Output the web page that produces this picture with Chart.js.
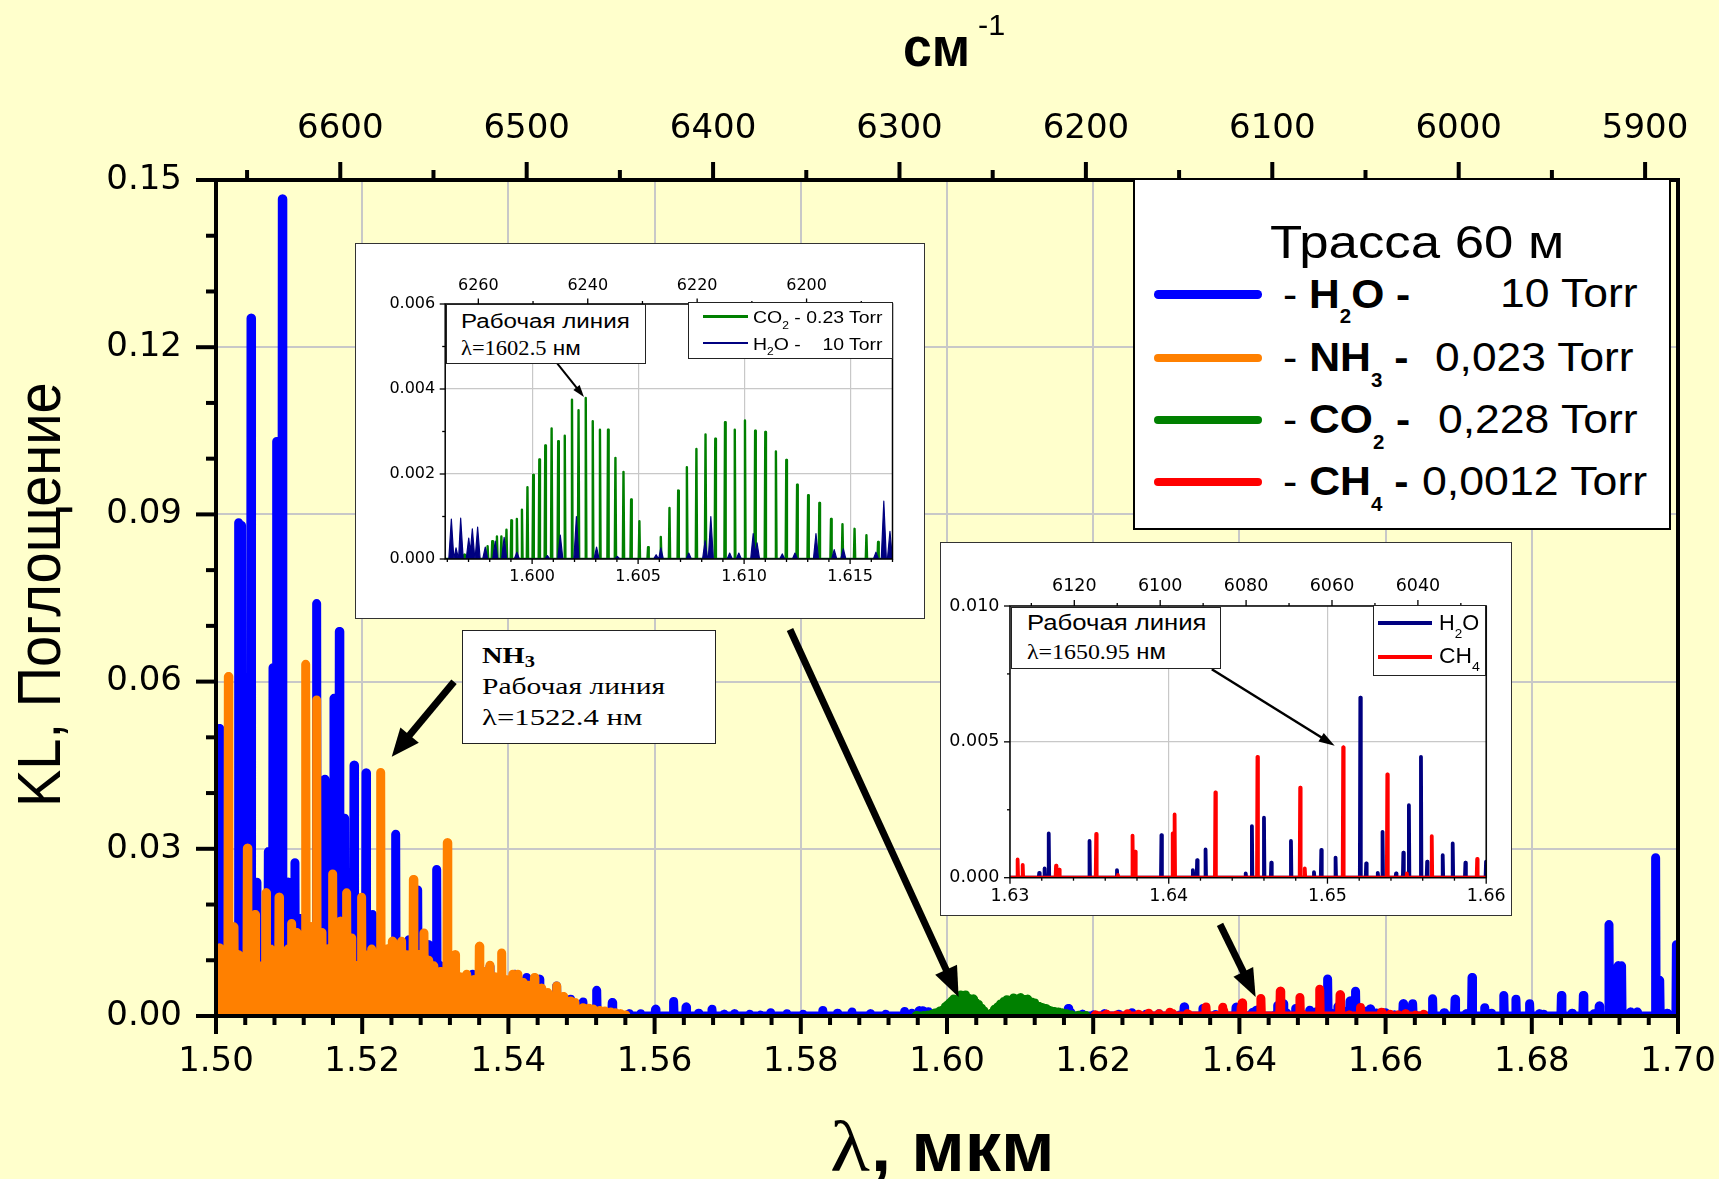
<!DOCTYPE html>
<html><head><meta charset="utf-8">
<script src="https://cdn.jsdelivr.net/npm/chart.js@4.4.1/dist/chart.umd.min.js"></script>
<style>
html,body{margin:0;padding:0;background:#ffffcc;width:1719px;height:1179px;overflow:hidden;position:relative}
canvas{display:block}
#main{position:absolute;left:0;top:0}
.box{position:absolute;box-sizing:border-box;background:#fff}
.frame{position:absolute;box-sizing:border-box;pointer-events:none}
.inset{position:absolute;background:#fff}
.sw{position:absolute}
.txt{position:absolute;white-space:nowrap;transform-origin:0 0;color:#000;line-height:1}
.sb{font-size:48%;position:relative;top:.8em}
.sb2{font-size:62%;position:relative;top:.55em}
.sb3{font-size:72%;position:relative;top:.25em}
</style></head><body>
<canvas id="main" width="1719" height="1179"></canvas>
<div class="box" style="left:1133px;top:178px;width:538px;height:352px;border:2px solid #000"></div>
<div class="box" style="left:462px;top:630px;width:254px;height:114px;border:1.5px solid #222"></div>
<div class="inset" style="left:355px;top:243px;width:570px;height:376px"><canvas id="in1" width="570" height="376"></canvas></div>
<div class="frame" style="left:355px;top:243px;width:570px;height:376px;border:1.5px solid #333"></div>
<div class="box" style="left:446px;top:304px;width:200px;height:60px;border:1.5px solid #222"></div>
<div class="box" style="left:688px;top:302px;width:205px;height:57px;border:1.5px solid #222"></div>
<div class="inset" style="left:940px;top:542px;width:572px;height:374px"><canvas id="in2" width="572" height="374"></canvas></div>
<div class="frame" style="left:940px;top:542px;width:572px;height:374px;border:1.5px solid #333"></div>
<div class="box" style="left:1011px;top:607px;width:210px;height:62px;border:1.5px solid #222"></div>
<div class="box" style="left:1373px;top:605px;width:113px;height:71px;border:1.5px solid #222"></div>
<script>
// ---------------- DATA (line positions in µm, absorbance KL) ----------------
// H2O, 10 Torr : strong lines 1.50–1.596 µm
const h2oStrong = [
 [1.50045,0.0516],[1.5009,0.0120],[1.5016,0.0080],[1.5022,0.0100],[1.5031,0.0885],[1.5035,0.0880],
 [1.5040,0.0150],[1.50479,0.1252],[1.5052,0.0200],[1.5056,0.0240],[1.5063,0.0080],[1.50716,0.0295],
 [1.5078,0.0625],[1.5083,0.1031],[1.50907,0.1466],[1.50986,0.0240],[1.5108,0.0275],[1.5115,0.0175],
 [1.5123,0.0130],[1.5131,0.0100],[1.51377,0.0740],[1.51491,0.0425],[1.51614,0.0570],[1.51687,0.0690],
 [1.51760,0.0355],[1.51888,0.0450],[1.5195,0.0200],[1.52052,0.0436],[1.52143,0.0182],[1.5221,0.0120],
 [1.5233,0.0100],[1.52458,0.0326],[1.5264,0.0137],[1.52759,0.0226],[1.52905,0.0128],[1.53019,0.0263],
 [1.5306,0.0091],[1.53247,0.0089],[1.5340,0.0060],[1.53511,0.0075],[1.53748,0.0089],[1.5392,0.0060],
 [1.5409,0.0075],[1.5425,0.0069],[1.54423,0.0066],[1.5466,0.0054],[1.5485,0.0030],[1.5502,0.0025],
 [1.55208,0.0046],[1.5542,0.0024],[1.5565,0.0004],[1.5581,0.0004],[1.56012,0.0012],[1.5626,0.0026],
 [1.5643,0.0016],[1.5660,0.0005],[1.56785,0.0012],[1.5695,0.0003],[1.5709,0.0004],[1.5730,0.0003],
 [1.5745,0.0002],[1.57588,0.0006],[1.5781,0.0004],[1.5803,0.0003],[1.58301,0.0010],[1.5850,0.0005],
 [1.5870,0.0007],[1.5895,0.0004],[1.5916,0.0003],[1.5942,0.0008],[1.5952,0.0005]
];
// H2O in the CO2 window (inset 1)
const h2oCo2Window = [
 [1.59619,0.00094],[1.59641,0.00026],[1.59663,0.00096],[1.59701,0.00049],[1.59718,0.00071],[1.59743,0.00075],
 [1.59779,0.00028],[1.59826,0.00042],[1.59868,0.00051],[1.59928,0.00016],[1.60072,0.00008],[1.60133,0.00056],
 [1.60209,0.00100],[1.60304,0.00028],[1.60402,0.00006],[1.60585,0.00010],[1.60607,0.00026],[1.60739,0.00014],
 [1.60816,0.00043],[1.60843,0.00100],[1.60932,0.00014],[1.60975,0.00014],[1.61043,0.00060],[1.61061,0.00038],
 [1.61180,0.00012],[1.61240,0.00014],[1.61339,0.00060],[1.61425,0.00022],[1.61468,0.00024],[1.61622,0.00016],
 [1.61659,0.00136],[1.61688,0.00065]
];
const h2oMid = [[1.6185,0.0003],[1.6200,0.0002],[1.6215,0.0004],[1.6235,0.0003],[1.6253,0.0006],[1.6272,0.0003],[1.6290,0.0004]];
// H2O in the CH4 window (inset 2)
const h2oCh4Window = [
 [1.63184,0.00018],[1.63218,0.00034],[1.63244,0.00163],[1.63501,0.00135],[1.63674,0.00028],[1.63954,0.00157],
 [1.64152,0.00028],[1.64179,0.00065],[1.64232,0.00104],[1.64485,0.00016],[1.64524,0.00190],[1.64600,0.00221],
 [1.64646,0.00055],[1.64770,0.00135],[1.64915,0.00020],[1.64961,0.00102],[1.65051,0.00074],[1.65207,0.00663],
 [1.65244,0.00053],[1.65317,0.00018],[1.65347,0.00169],[1.65432,0.00016],[1.65478,0.00092],[1.65513,0.00267],
 [1.65589,0.00445],[1.65628,0.00059],[1.65726,0.00083],[1.65789,0.00126],[1.65869,0.00055],[1.65999,0.00059]
];
const h2oFar = [
 [1.6612,0.0002],[1.6624,0.0022],[1.6637,0.0022],[1.66643,0.0031],[1.6680,0.0006],[1.6695,0.0030],
 [1.6710,0.0004],[1.67182,0.0069],[1.67356,0.0015],[1.6745,0.0005],[1.67617,0.0037],[1.67783,0.0030],
 [1.6797,0.0022],[1.6810,0.0004],[1.68164,0.0003],[1.68405,0.0037],[1.6855,0.0005],[1.68705,0.0037],
 [1.6885,0.0004],[1.68922,0.0018],[1.69056,0.0164],[1.6918,0.0090],[1.69228,0.0090],[1.6935,0.0007],
 [1.6944,0.0007],[1.69694,0.0284],[1.6975,0.0064],[1.6985,0.0005],[1.69978,0.0128]
];
// NH3, 0.023 Torr
const nh3Lines = [
 [1.50045,0.0122],[1.5009,0.0080],[1.50169,0.0609],[1.50246,0.0160],[1.5031,0.0110],[1.5037,0.0090],
 [1.50429,0.0301],[1.5049,0.0100],[1.50534,0.0182],[1.5060,0.0090],[1.50684,0.0221],[1.5075,0.0120],
 [1.5080,0.0090],[1.50862,0.0213],[1.5093,0.0100],[1.50985,0.0120],[1.51035,0.0166],[1.5110,0.0150],
 [1.5116,0.0110],[1.51227,0.0631],[1.5130,0.0160],[1.51377,0.0567],[1.5145,0.0150],[1.51525,0.0120],
 [1.51596,0.0255],[1.51700,0.0170],[1.51787,0.0221],[1.5185,0.0140],[1.5192,0.0090],[1.51992,0.0213],
 [1.5205,0.0110],[1.5213,0.0120],[1.5219,0.0095],[1.52253,0.0437],[1.5234,0.0120],[1.52412,0.0134],
 [1.5248,0.0120],[1.52539,0.0134],[1.5260,0.0110],[1.52700,0.0245],[1.5277,0.0110],[1.52845,0.0149],
 [1.5291,0.0100],[1.5298,0.0090],[1.5307,0.0080],[1.53164,0.0311],[1.5327,0.0110],[1.5334,0.0070],
 [1.5343,0.0075],[1.5352,0.0065],[1.53602,0.0125],[1.5368,0.0080],[1.53748,0.0091],[1.5382,0.0070],
 [1.53908,0.0113],[1.5398,0.0065],[1.5406,0.0075],[1.5413,0.0075],[1.5420,0.0060],[1.5428,0.0055],
 [1.54356,0.0069],[1.5445,0.0050],[1.5454,0.0042],[1.54661,0.0054],[1.5475,0.0035],[1.5485,0.0027],
 [1.5491,0.0024],[1.5502,0.0015],[1.5510,0.0014],[1.5516,0.0012],[1.5525,0.0010],[1.5532,0.0009],
 [1.5540,0.0007],[1.5546,0.0006],[1.5553,0.0004],[1.5560,0.0002]
];
// CO2, 0.228 Torr
const co2Lines = [
 [1.5958,0.0001],[1.5968,0.0001],[1.5974,0.0002],
 [1.59790,0.0003],[1.59812,0.00042],[1.59834,0.00053],[1.59855,0.00053],[1.59879,0.00069],[1.59902,0.00091],
 [1.59928,0.00094],[1.59952,0.00116],[1.59978,0.00169],[1.60005,0.00198],[1.60034,0.00234],[1.60062,0.00267],
 [1.60092,0.00307],[1.60123,0.00277],[1.60154,0.00290],[1.60188,0.00375],[1.60219,0.00350],[1.60253,0.00379],
 [1.60286,0.00324],[1.60320,0.00304],[1.60358,0.00304],[1.60393,0.00238],[1.60431,0.00205],[1.60467,0.00140],
 [1.60506,0.00089],[1.60547,0.00028],
 [1.60607,0.00052],[1.60648,0.00120],[1.60689,0.00161],[1.60730,0.00216],[1.60775,0.00259],[1.60818,0.00293],
 [1.60864,0.00283],[1.60910,0.00322],[1.60956,0.00304],[1.61004,0.00326],[1.61052,0.00302],[1.61100,0.00299],
 [1.61150,0.00253],[1.61199,0.00233],[1.61250,0.00175],[1.61302,0.00150],[1.61355,0.00132],[1.61410,0.00094],
 [1.61464,0.00082],[1.61521,0.00071],[1.61577,0.00056],[1.61632,0.00040],
 [1.6170,0.0002],[1.6180,0.00015],[1.6190,0.0001]
];
// CH4, 0.0012 Torr
const ch4Lines = [
 [1.6203,0.0002],[1.6218,0.0003],[1.6232,0.0002],[1.6247,0.0004],[1.6262,0.0003],[1.6276,0.0005],[1.6290,0.0004],
 [1.63048,0.00067],[1.63080,0.00047],[1.63290,0.00044],[1.63310,0.00030],[1.63543,0.00161],[1.63680,0.00010],
 [1.63772,0.00155],[1.63789,0.00096],[1.64025,0.00163],[1.64037,0.00233],[1.64294,0.00314],[1.64559,0.00445],
 [1.64828,0.00331],[1.64857,0.00034],[1.65099,0.00480],[1.65377,0.00380],[1.65500,0.00016],[1.65657,0.00153],
 [1.65943,0.00069],
 [1.6606,0.0003],[1.6617,0.0002],[1.6627,0.0004],[1.6641,0.0002],[1.6652,0.0003]
];
const h2oLines = [...h2oStrong, ...h2oCo2Window, ...h2oMid, ...h2oCh4Window, ...h2oFar];

// tick labels
const xTicks = [1.50,1.52,1.54,1.56,1.58,1.60,1.62,1.64,1.66,1.68,1.70];
const yTicks = [0,0.03,0.06,0.09,0.12,0.15];
const topTicks = [6600,6500,6400,6300,6200,6100,6000,5900];
const in1XTicks = [1.600,1.605,1.610,1.615];
const in1YTicks = [0,0.002,0.004,0.006];
const in1TopTicks = [6260,6240,6220,6200];
const in2XTicks = [1.63,1.64,1.65,1.66];
const in2YTicks = [0,0.005,0.010];
const in2TopTicks = [6120,6100,6080,6060,6040];

// ---------------- helpers ----------------
function spikes(pairs, d) {
  const s = pairs.slice().sort((a,b)=>a[0]-b[0]);
  const out = [];
  for (const [p,v] of s) out.push({x:p-d,y:0},{x:p,y:v},{x:p+d,y:0});
  return out;
}
function lin(o) {
  return {
    type:'linear', position:o.pos, min:o.min, max:o.max, reverse:!!o.reverse,
    afterFit: s => {
      if (o.pos==='left') s.width = o.size; else s.height = o.size;
      s.paddingLeft = 0; s.paddingRight = 0; s.paddingTop = 0; s.paddingBottom = 0;
    },
    afterBuildTicks: s => { s.ticks = o.ticks.map(v=>({value:v})); },
    ticks:{color:'#000', font:{family:'DejaVu Sans', size:o.font}, padding:o.pad, autoSkip:false,
           maxRotation:0, minRotation:0, callback:o.fmt},
    grid:{display:o.grid!==false, color:'#c8c8c8', lineWidth:o.gridW||2, drawTicks:false},
    border:{display:false}
  };
}
const tickMarks = {
  id:'tickMarks',
  afterDatasetsDraw(chart, args, opts) {
    const ctx = chart.ctx, a = chart.chartArea;
    ctx.save(); ctx.strokeStyle = '#000'; ctx.lineCap = 'butt';
    for (const ax of (opts.axes||[])) {
      const sc = chart.scales[ax.id];
      const list = ax.major.map(v=>[v, ax.majorLen]);
      const lo = Math.min(sc.min, sc.max), hi = Math.max(sc.min, sc.max);
      const n0 = Math.ceil(lo/ax.minorStep - 1e-6), n1 = Math.floor(hi/ax.minorStep + 1e-6);
      for (let n=n0; n<=n1; n++) {
        const v = n*ax.minorStep;
        if (!ax.major.some(m=>Math.abs(m-v) < ax.minorStep*1e-3)) list.push([v, ax.minorLen]);
      }
      ctx.lineWidth = ax.width;
      for (const [v,len] of list) {
        const p = sc.getPixelForValue(v);
        ctx.beginPath();
        if (ax.side==='left') { ctx.moveTo(a.left,p); ctx.lineTo(a.left-len,p); }
        else if (ax.side==='bottom') { ctx.moveTo(p,a.bottom); ctx.lineTo(p,a.bottom+len); }
        else { ctx.moveTo(p,a.top); ctx.lineTo(p,a.top-len); }
        ctx.stroke();
      }
    }
    ctx.lineWidth = opts.frameWidth;
    ctx.strokeRect(a.left, a.top, a.width, a.height);
    ctx.restore();
  }
};
const arrows = {
  id:'arrows',
  afterDatasetsDraw(chart, args, opts) {
    const ctx = chart.ctx, xs = chart.scales.x, ys = chart.scales.y;
    ctx.save(); ctx.strokeStyle = '#000'; ctx.fillStyle = '#000'; ctx.lineCap = 'butt';
    for (const ar of (opts.list||[])) {
      const x1 = xs.getPixelForValue(ar.from[0]), y1 = ys.getPixelForValue(ar.from[1]);
      const x2 = xs.getPixelForValue(ar.to[0]), y2 = ys.getPixelForValue(ar.to[1]);
      const ang = Math.atan2(y2-y1, x2-x1), c = Math.cos(ang), s = Math.sin(ang);
      const bx = x2 - ar.head*c, by = y2 - ar.head*s;
      ctx.lineWidth = ar.width;
      ctx.beginPath(); ctx.moveTo(x1,y1); ctx.lineTo(bx+ar.head*0.3*c, by+ar.head*0.3*s); ctx.stroke();
      ctx.beginPath(); ctx.moveTo(x2,y2);
      ctx.lineTo(bx + ar.headW/2*s, by - ar.headW/2*c);
      ctx.lineTo(bx - ar.headW/2*s, by + ar.headW/2*c);
      ctx.closePath(); ctx.fill();
    }
    ctx.restore();
  }
};
const lineEl = {point:{radius:0, hoverRadius:0}, line:{tension:0, borderJoinStyle:'round', borderCapStyle:'round', fill:false}};
const f2 = v => Number(v).toFixed(2), f3 = v => Number(v).toFixed(3), f0 = v => String(Math.round(v));

// ---------------- main chart ----------------
const DM = 0.00007;
new Chart(document.getElementById('main'), {
  type:'line',
  data:{datasets:[
    {label:'H2O', data:spikes(h2oLines,DM), borderColor:'#0000ff', borderWidth:9, order:4},
    {label:'NH3', data:spikes(nh3Lines,DM), borderColor:'#ff8000', borderWidth:9, order:3},
    {label:'CO2', data:spikes(co2Lines,DM), borderColor:'#008000', borderWidth:9, order:2},
    {label:'CH4', data:spikes(ch4Lines,DM), borderColor:'#ff0000', borderWidth:9, order:1}
  ]},
  options:{
    responsive:false, animation:false, devicePixelRatio:1, events:[],
    layout:{autoPadding:false, padding:{left:0,right:41,top:0,bottom:0}},
    elements:lineEl,
    plugins:{legend:{display:false}, tooltip:{enabled:false},
      tickMarks:{frameWidth:4, axes:[
        {id:'y', side:'left', major:yTicks, minorStep:0.01, majorLen:20, minorLen:10, width:4},
        {id:'x', side:'bottom', major:xTicks, minorStep:0.004, majorLen:18, minorLen:9, width:4},
        {id:'x2', side:'top', major:topTicks, minorStep:50, majorLen:18, minorLen:10, width:4}]},
      arrows:{list:[
        {from:[1.53256,0.05999], to:[1.52404,0.04653], width:7, head:28, headW:24},
        {from:[1.57852,0.06935], to:[1.60159,0.00341], width:7, head:30, headW:24},
        {from:[1.63735,0.01644], to:[1.64222,0.00341], width:7, head:28, headW:22}]}
    },
    scales:{
      x: lin({pos:'bottom', min:1.5, max:1.7, size:163, ticks:xTicks, font:34, pad:26, fmt:f2}),
      x2: lin({pos:'top', min:10000/1.7, max:10000/1.5, reverse:true, size:180, ticks:topTicks, font:34, pad:30, fmt:f0, grid:false}),
      y: lin({pos:'left', min:0, max:0.15, size:216, ticks:yTicks, font:34, pad:34, fmt:f2})
    }
  },
  plugins:[tickMarks, arrows]
});

// ---------------- inset 1 : CO2 window ----------------
new Chart(document.getElementById('in1'), {
  type:'line',
  data:{datasets:[
    {label:'CO2', data:spikes(co2Lines,0.00003), borderColor:'#008000', borderWidth:2.4, order:2},
    {label:'H2O', data:spikes(h2oLines,0.00012), borderColor:'#000080', borderWidth:1.2,
     fill:'origin', backgroundColor:'#000080', order:1}
  ]},
  options:{
    responsive:false, animation:false, devicePixelRatio:1, events:[],
    layout:{autoPadding:false, padding:{left:0,right:32.5,top:0,bottom:0}},
    elements:lineEl,
    plugins:{legend:{display:false}, tooltip:{enabled:false},
      tickMarks:{frameWidth:1.5, axes:[
        {id:'y', side:'left', major:in1YTicks, minorStep:0.001, majorLen:5.5, minorLen:3, width:1.3},
        {id:'x', side:'bottom', major:in1XTicks, minorStep:0.001, majorLen:5, minorLen:3, width:1.3},
        {id:'x2', side:'top', major:in1TopTicks, minorStep:10, majorLen:5.5, minorLen:3, width:1.3}]},
      arrows:{list:[{from:[1.601164,0.004612], to:[1.602447,0.003812], width:2, head:12, headW:8}]}
    },
    scales:{
      x: lin({pos:'bottom', min:1.5959, max:1.617, size:60, ticks:in1XTicks, font:16, pad:8, fmt:f3, gridW:1.2}),
      x2: lin({pos:'top', min:10000/1.617, max:10000/1.5959, reverse:true, size:61, ticks:in1TopTicks, font:16, pad:9, fmt:f0, grid:false}),
      y: lin({pos:'left', min:0, max:0.006, size:90.2, ticks:in1YTicks, font:16, pad:10, fmt:f3, gridW:1.2})
    }
  },
  plugins:[tickMarks, arrows]
});

// ---------------- inset 2 : CH4 window ----------------
new Chart(document.getElementById('in2'), {
  type:'line',
  data:{datasets:[
    {label:'H2O', data:spikes(h2oLines,0.00003), borderColor:'#000080', borderWidth:3.8, order:2},
    {label:'CH4', data:spikes(ch4Lines,0.00003), borderColor:'#ff0000', borderWidth:3.8, order:1}
  ]},
  options:{
    responsive:false, animation:false, devicePixelRatio:1, events:[],
    layout:{autoPadding:false, padding:{left:0,right:25.8,top:0,bottom:0}},
    elements:lineEl,
    plugins:{legend:{display:false}, tooltip:{enabled:false},
      tickMarks:{frameWidth:1.5, axes:[
        {id:'y', side:'left', major:in2YTicks, minorStep:0.0025, majorLen:6, minorLen:3, width:1.3},
        {id:'x', side:'bottom', major:in2XTicks, minorStep:0.002, majorLen:6, minorLen:3, width:1.3},
        {id:'x2', side:'top', major:in2TopTicks, minorStep:10, majorLen:6, minorLen:3, width:1.3}]},
      arrows:{list:[{from:[1.642713,0.00767], to:[1.650455,0.004858], width:2.5, head:16, headW:10}]}
    },
    scales:{
      x: lin({pos:'bottom', min:1.63, max:1.66, size:38.3, ticks:in2XTicks, font:17.5, pad:8.5, fmt:f2, gridW:1.2}),
      x2: lin({pos:'top', min:10000/1.66, max:10000/1.63, reverse:true, size:64, ticks:in2TopTicks, font:17.5, pad:9.2, fmt:f0, grid:false}),
      y: lin({pos:'left', min:0, max:0.010, size:70, ticks:in2YTicks, font:17.5, pad:10.6, fmt:f3, gridW:1.2})
    }
  },
  plugins:[tickMarks, arrows]
});

// ---------------- text & legend overlays ----------------
const SANS = "'Liberation Sans', Arial, sans-serif";
const SERIF = "'Liberation Serif', 'Times New Roman', serif";
function txt(html, o) {
  const el = document.createElement('div');
  el.className = 'txt';
  el.innerHTML = html;
  el.style.fontFamily = o.serif ? SERIF : SANS;
  el.style.fontSize = o.size + 'px';
  el.style.fontWeight = o.bold ? 'bold' : 'normal';
  document.body.appendChild(el);
  const w = el.offsetWidth;
  const k = o.width ? o.width / w : 1;
  if (o.rotate) {
    el.style.left = o.x + 'px';
    el.style.top = o.y + 'px';
    el.style.transform = 'rotate(-90deg) scaleX(' + k + ')';
  } else {
    el.style.left = o.x + 'px';
    el.style.top = (o.base - 0.8465*o.size) + 'px';
    el.style.transform = 'scaleX(' + k + ')';
  }
  return el;
}
function swatch(x, y, w, h, color, round) {
  const d = document.createElement('div');
  d.className = 'sw';
  d.style.cssText = `left:${x}px;top:${y-h/2}px;width:${w}px;height:${h}px;background:${color};border-radius:${round?h/2:0}px`;
  document.body.appendChild(d);
}
// axis titles
txt('см', {x:903, base:67, size:55, bold:true, width:67});
txt('-1', {x:977.5, base:35.5, size:30, width:27.5});
txt('λ', {x:830, base:1171.5, size:72, serif:true, width:40});
txt(', мкм', {x:871, base:1171.5, size:71, bold:true, width:183.5});
txt('KL, Поглощение', {rotate:true, x:8.8, y:807, size:60.5, width:425});

// main legend
const legendRows = [
  {mol:'H<span class="sb">2</span>O', val:'10 Torr', color:'#0000ff'},
  {mol:'NH<span class="sb">3</span>', val:'0,023 Torr', color:'#ff8000'},
  {mol:'CO<span class="sb">2</span>', val:'0,228 Torr', color:'#008000'},
  {mol:'CH<span class="sb">4</span>', val:'0,0012 Torr', color:'#ff0000'}
];
const rowBase = [308, 371.3, 433.7, 495.3], rowMolW = [127.2, 125.7, 127.2, 125.7];
const rowValX = [1499.7, 1435.3, 1437.8, 1422.3], rowValW = [137.8, 198.7, 199.7, 225.5];
txt('Трасса 60 м', {x:1270, base:258, size:47, width:294});
legendRows.forEach((r, i) => {
  swatch(1154.3, rowBase[i]-13.5, 108, 8.5, r.color, true);
  txt('- <b>' + r.mol + ' -</b>', {x:1282.8, base:rowBase[i], size:40.5, width:rowMolW[i]});
  txt(r.val, {x:rowValX[i], base:rowBase[i], size:41, width:rowValW[i]});
});

// NH3 annotation
txt('<b>NH<span class="sb3">3</span></b>', {x:481.7, base:663.3, size:24, serif:true, width:53.3});
txt('Рабочая линия', {x:481.6, base:694.2, size:24, serif:true, width:183.2});
txt('λ=1522.4 нм', {x:481.6, base:725.6, size:24, serif:true, width:160.2});

// inset 1 annotation + legend
txt('Рабочая линия', {x:461.2, base:328, size:20, width:169});
txt('<span style="font-family:' + SERIF.replace(/'/g,'&quot;') + '">λ=1602.5</span> нм', {x:461.2, base:354.7, size:20, width:119.3});
swatch(703.4, 316.3, 44.3, 2.5, '#008000', false);
swatch(703.4, 343, 44.3, 2.5, '#000080', false);
txt('CO<span class="sb2">2</span> - 0.23 Torr', {x:752.5, base:323, size:16.3, width:129});
txt('H<span class="sb2">2</span>O -&nbsp;&nbsp;&nbsp; 10 Torr', {x:752.5, base:349.7, size:16.3, width:129});

// inset 2 annotation + legend
txt('Рабочая линия', {x:1026.5, base:630.7, size:22, width:179.8});
txt('<span style="font-family:' + SERIF.replace(/'/g,'&quot;') + '">λ=1650.95</span> нм', {x:1026.5, base:660, size:22, width:139});
swatch(1377.8, 623.3, 54.7, 4, '#000080', false);
swatch(1377.8, 656.7, 54.7, 4, '#ff0000', false);
txt('H<span class="sb2">2</span>O', {x:1438.7, base:630.7, size:22, width:40.5});
txt('CH<span class="sb2">4</span>', {x:1438.7, base:664, size:22, width:40.5});
</script>
</body></html>
